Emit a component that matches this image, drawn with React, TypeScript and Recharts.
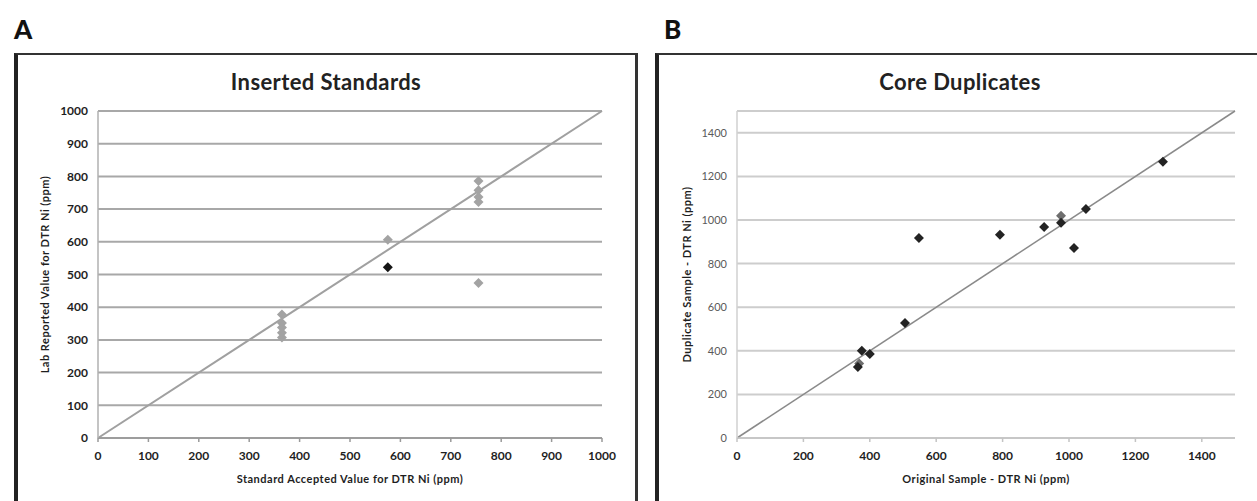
import { ScatterChart, Scatter, XAxis, YAxis, CartesianGrid, ReferenceLine } from "recharts";

// Panel A - inserted standards (accepted vs lab reported, ppm)
const standardsGrayX = [365, 365, 365, 365, 365, 575, 755, 755, 755, 755, 755];
const standardsGrayY = [378, 352, 338, 322, 307, 606, 786, 758, 737, 722, 474];
const standardsBlackX = [575];
const standardsBlackY = [522];
const standardsTicks = [0, 100, 200, 300, 400, 500, 600, 700, 800, 900, 1000];

// Panel B - core duplicates (original vs duplicate, ppm)
const duplicatesDarkX = [364, 376, 400, 506, 548, 792, 925, 976, 1015, 1051, 1283];
const duplicatesDarkY = [326, 400, 385, 528, 918, 932, 968, 987, 872, 1051, 1267];
const duplicatesGrayX = [976, 368];
const duplicatesGrayY = [1019, 342];
const duplicatesTicks = [0, 200, 400, 600, 800, 1000, 1200, 1400];

const FONT = "Lato, 'Open Sans', sans-serif";

const toPoints = (xs: number[], ys: number[]) => xs.map((x, i) => ({ x, y: ys[i] }));

const diamond = (color: string, r: number) => (props: any) => {
  const { cx, cy } = props;
  if (cx == null || cy == null) return <g />;
  return (
    <polygon
      points={`${cx},${cy - r} ${cx + r},${cy} ${cx},${cy + r} ${cx - r},${cy}`}
      fill={color}
    />
  );
};

const axisTitle = { fill: "#1e1e1e", fontSize: 11, fontWeight: 700, fontFamily: FONT, letterSpacing: 0.5 };

function InsertedStandards() {
  return (
    <ScatterChart
      width={640}
      height={501}
      margin={{ top: 111, right: 38, bottom: 0, left: 40 }}
      style={{ position: "absolute", left: 0, top: 0 }}
    >
      <CartesianGrid vertical={false} stroke="#a8a8a8" strokeWidth={2} />
      <XAxis
        type="number"
        dataKey="x"
        domain={[0, 1000]}
        ticks={standardsTicks}
        interval={0}
        height={63}
        stroke="#9a9a9a"
        strokeWidth={1.5}
        tickSize={4}
        tickMargin={9}
        tick={{ fill: "#1e1e1e", fontSize: 12, fontWeight: 700, fontFamily: FONT }}
        label={{
          value: "Standard Accepted Value for DTR Ni (ppm)",
          position: "insideBottom",
          offset: 18,
          style: axisTitle,
        }}
      />
      <YAxis
        type="number"
        dataKey="y"
        domain={[0, 1000]}
        ticks={standardsTicks}
        interval={0}
        width={58}
        stroke="#b0b0b0"
        strokeWidth={1.5}
        tickLine={false}
        tickSize={6}
        tickMargin={4}
        tick={{ fill: "#1e1e1e", fontSize: 12, fontWeight: 700, fontFamily: FONT }}
        label={{
          value: "Lab Reported Value for DTR Ni (ppm)",
          angle: -90,
          position: "insideLeft",
          offset: 5,
          style: { ...axisTitle, textAnchor: "middle" },
        }}
      />
      <ReferenceLine
        segment={[{ x: 0, y: 0 }, { x: 1000, y: 1000 }]}
        stroke="#a0a0a0"
        strokeWidth={2}
      />
      <Scatter
        data={toPoints(standardsGrayX, standardsGrayY)}
        shape={diamond("#a3a3a3", 5)}
        isAnimationActive={false}
      />
      <Scatter
        data={toPoints(standardsBlackX, standardsBlackY)}
        shape={diamond("#151515", 5)}
        isAnimationActive={false}
      />
    </ScatterChart>
  );
}

function CoreDuplicates() {
  return (
    <ScatterChart
      width={617}
      height={501}
      margin={{ top: 111, right: 22, bottom: 0, left: 40 }}
      style={{ position: "absolute", left: 640, top: 0 }}
    >
      <CartesianGrid vertical={false} stroke="#cdcdcd" strokeWidth={2} />
      <XAxis
        type="number"
        dataKey="x"
        domain={[0, 1500]}
        ticks={duplicatesTicks}
        interval={0}
        height={63}
        stroke="#c4c4c4"
        strokeWidth={1.5}
        tickSize={4}
        tickMargin={9}
        tick={{ fill: "#1e1e1e", fontSize: 12, fontWeight: 700, fontFamily: FONT }}
        label={{
          value: "Original Sample - DTR Ni (ppm)",
          position: "insideBottom",
          offset: 18,
          style: axisTitle,
        }}
      />
      <YAxis
        type="number"
        dataKey="y"
        domain={[0, 1500]}
        ticks={duplicatesTicks}
        interval={0}
        width={57}
        stroke="#d0d0d0"
        strokeWidth={1.5}
        tickLine={false}
        tickSize={6}
        tickMargin={4}
        tick={{ fill: "#5a5a5a", fontSize: 11, fontFamily: FONT }}
        label={{
          value: "Duplicate Sample - DTR Ni (ppm)",
          angle: -90,
          position: "insideLeft",
          offset: 7,
          style: { ...axisTitle, textAnchor: "middle" },
        }}
      />
      <ReferenceLine
        segment={[{ x: 0, y: 0 }, { x: 1500, y: 1500 }]}
        stroke="#8a8a8a"
        strokeWidth={1.5}
      />
      <Scatter
        data={toPoints(duplicatesGrayX, duplicatesGrayY)}
        shape={diamond("#6e6e6e", 5)}
        isAnimationActive={false}
      />
      <Scatter
        data={toPoints(duplicatesDarkX, duplicatesDarkY)}
        shape={diamond("#232323", 5)}
        isAnimationActive={false}
      />
    </ScatterChart>
  );
}

export default function App() {
  const letter = { position: "absolute" as const, top: 13, fontFamily: FONT, fontWeight: 900, fontSize: 26, color: "#111" };
  const title = { position: "absolute" as const, top: 68, width: 300, textAlign: "center" as const, fontFamily: FONT, fontWeight: 700, fontSize: 22, letterSpacing: 0.4, color: "#222" };
  return (
    <div style={{ position: "absolute", left: 0, top: 0, width: 1257, height: 501, background: "#fff", overflow: "hidden" }}>
      <div style={{ ...letter, left: 14 }}>A</div>
      <div style={{ ...letter, left: 664 }}>B</div>
      {/* panel frames */}
      <div style={{ position: "absolute", left: 14, top: 53, width: 617, height: 460, borderLeft: "4px solid #222", borderTop: "2px solid #333", borderRight: "3px solid #333" }} />
      <div style={{ position: "absolute", left: 655, top: 53, width: 620, height: 460, borderLeft: "4px solid #222", borderTop: "2px solid #333" }} />
      <div style={{ ...title, left: 176 }}>Inserted Standards</div>
      <div style={{ ...title, left: 810 }}>Core Duplicates</div>
      <InsertedStandards />
      <CoreDuplicates />
    </div>
  );
}
